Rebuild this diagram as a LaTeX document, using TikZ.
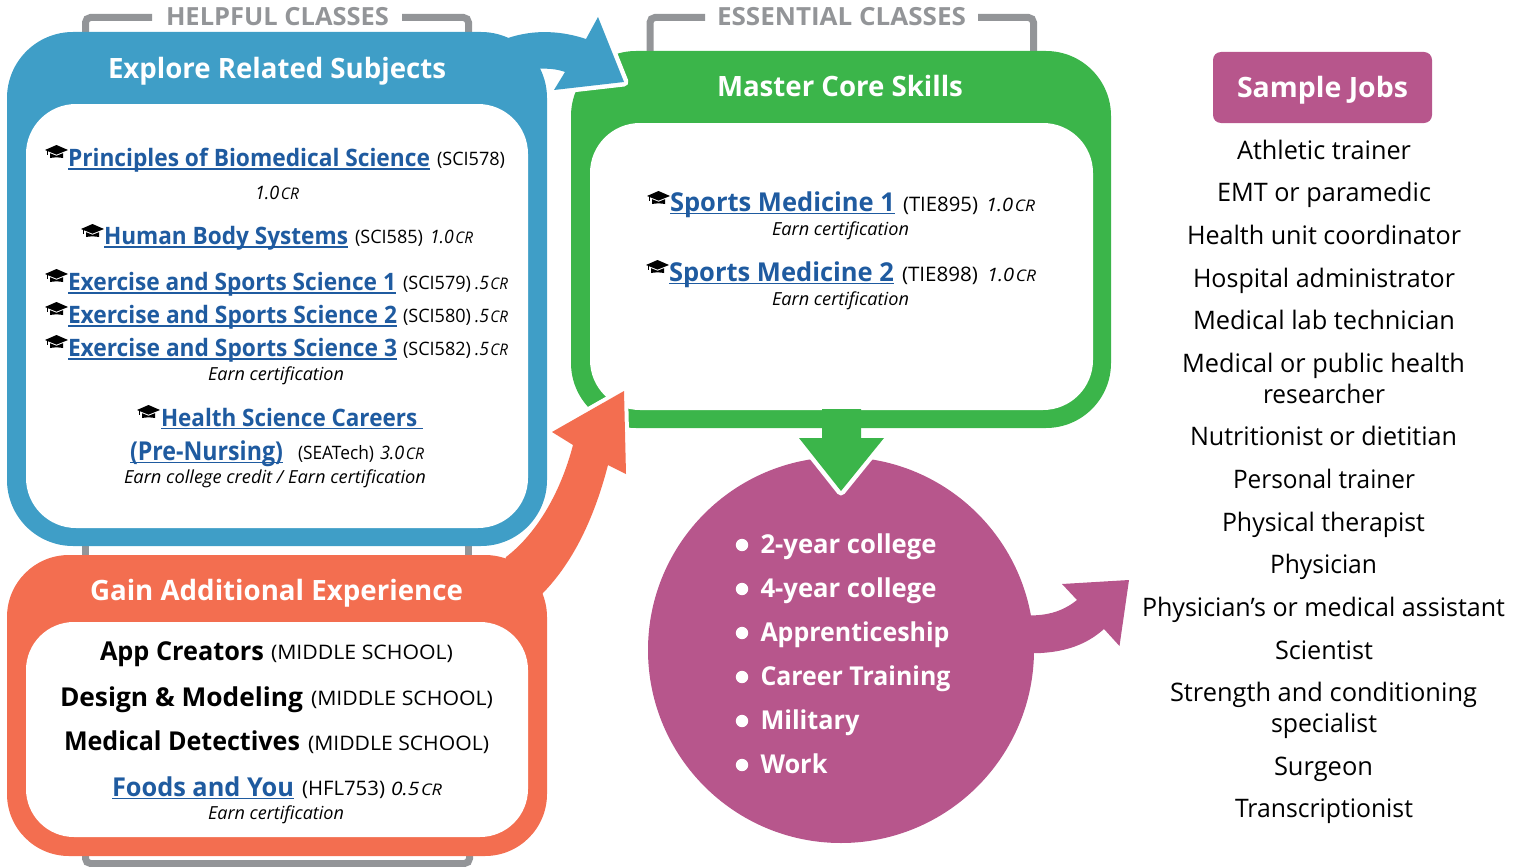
\documentclass[tikz,border=0pt]{standalone}
\usepackage{graphicx}
\usepackage{fontspec}
\setmainfont{Open Sans}
\definecolor{cblue}{HTML}{3F9EC7}
\definecolor{cgreen}{HTML}{3BB54A}
\definecolor{corange}{HTML}{F36E50}
\definecolor{cpurple}{HTML}{B7568C}
\definecolor{cgrey}{HTML}{939598}
\definecolor{clink}{HTML}{1F5BA0}
\newsavebox\fitbox
\newsavebox\lnkbox
\newcommand\fitx[2]{\sbox\fitbox{#2}\scalebox{\fpeval{#1pt/\the\wd\fitbox}}[1]{\usebox\fitbox}}
\newcommand\fs[1]{\fontsize{#1}{#1}\selectfont}
\newcommand\lnk[2][24]{\sbox\lnkbox{\fs{#1}\bfseries\color{clink}#2}\rlap{\usebox\lnkbox}{\color{clink}\rule[-3.2pt]{\wd\lnkbox}{1.6pt}}}
\newcommand\crd[1]{{\fs{18.5}\itshape #1\hspace{1.5pt}{\fs{16}CR}}}
\newcommand\code[1]{{\fs{18.5}#1}}
\newcommand\earn[1]{{\fs{18}\itshape #1}}
% \pc{name}{x}{baseline y}{width}{content}
\newcommand\pc[5]{\node[txt] (#1) at (#2,#3) {\fitx{#4}{#5}};}
\newcommand\job[5]{\node[txt] (#1) at (#2,#3) {\fitx{#4}{\fs{25.5}#5}};}
\tikzset{
  txt/.style={anchor=base west,inner sep=0pt,outer sep=0pt},
  box/.style={anchor=north west,inner sep=0pt,outer sep=0pt,draw=none},
  bracket/.style={draw=cgrey,line width=7pt,rounded corners=5pt},
  gradcap/.pic={
    \fill[black] (0,5) -- (11.5,0) -- (23,5) -- (11.5,9.6) -- cycle;
    \fill[black] (5,8.2) -- (11.5,10.8) -- (18,8.2) -- (18,13) .. controls (14,12.2) and (9,12.2) .. (5,13) -- cycle;
    \fill[black] (1.6,5.5) rectangle (2.6,10);
  }
}
\begin{document}
\begin{tikzpicture}[x=1pt,y=-1pt]
\useasboundingbox (0,0) rectangle (1524,867);
% brackets
\draw[bracket] (85.5,40) -- (85.5,17.5) -- (152,17.5);
\draw[bracket] (402,17.5) -- (468.5,17.5) -- (468.5,40);
\draw[bracket] (650,60) -- (650,17.5) -- (705,17.5);
\draw[bracket] (978,17.5) -- (1033.5,17.5) -- (1033.5,60);
\draw[bracket,rounded corners=0pt] (85.5,540) -- (85.5,560);
\draw[bracket,rounded corners=0pt] (468.5,540) -- (468.5,560);
\draw[bracket] (85.5,850) -- (85.5,863.5) -- (469.5,863.5) -- (469.5,850);
% circle and its arrows
\node[circle,fill=cpurple,minimum size=386pt,inner sep=0pt] (circ) at (841,650) {};
\fill[cpurple] (1020,615) .. controls (1045,617) and (1062,612) .. (1077,600) -- (1062,584) -- (1129,580) -- (1119.5,646) -- (1104,629) .. controls (1085,646) and (1060,655) .. (1020,653) -- cycle;
\path[draw=white,line width=9pt,line join=round] (822,400) -- (822,438) -- (799,438) -- (841,491) -- (884,438) -- (861,438) -- (861,400);
% green box
\node[box,fill=cgreen,rounded corners=65pt,minimum width=540pt,minimum height=377pt] (green) at (571,51) {};
\node[box,fill=white,rounded corners=50pt,minimum width=503pt,minimum height=287pt] (greenin) at (590,123) {};
\fill[cgreen] (822,409) -- (822,438) -- (799,438) -- (841,491) -- (884,438) -- (861,438) -- (861,409) -- cycle;
% blue arrow
\def\bluearrow{(500,60) -- (508,38) .. controls (535,29) and (562,31) .. (586,39) -- (598,17) -- (624,82) -- (554,90) -- (565,72) .. controls (557,69) and (548,68) .. (530,69) -- cycle}
\draw[white,line width=9pt,line join=round] \bluearrow;
\fill[cblue] \bluearrow;
% blue box
\node[box,fill=cblue,rounded corners=66pt,minimum width=540pt,minimum height=514pt] (blue) at (7,32) {};
\node[box,fill=white,rounded corners=50pt,minimum width=502pt,minimum height=424pt] (bluein) at (26,104) {};
% orange arrow
\def\orangearrow{(500,580) -- (506,557) .. controls (535,535) and (560,495) .. (573,445) -- (552,432) -- (624,391) -- (626,474) -- (608,465) .. controls (595,515) and (575,560) .. (543,593) -- (530,610) -- cycle}
\draw[white,line width=8pt,line join=round] \orangearrow;
\fill[corange] \orangearrow;
% orange box
\node[box,fill=corange,rounded corners=62pt,minimum width=540pt,minimum height=301pt] (orange) at (7,555) {};
\node[box,fill=white,rounded corners=48pt,minimum width=502pt,minimum height=215pt] (orangein) at (26,622) {};
% jobs box
\node[box,fill=cpurple,rounded corners=8pt,minimum width=219pt,minimum height=71pt] (jobsbox) at (1213,52) {};
% labels
\pc{hc}{166}{26}{223}{\fs{25}\bfseries\color{cgrey}HELPFUL CLASSES}
\pc{ec}{717}{26}{249}{\fs{25}\bfseries\color{cgrey}ESSENTIAL CLASSES}
\pc{t1}{108}{78}{338}{\fs{28}\bfseries\color{white}Explore Related Subjects}
\pc{t2}{717}{96}{246}{\fs{28}\bfseries\color{white}Master Core Skills}
\pc{t3}{90}{600}{373}{\fs{28}\bfseries\color{white}Gain Additional Experience}
\pc{t4}{1237}{97}{171}{\fs{28}\bfseries\color{white}Sample Jobs}
% blue content
\pic at (45,145) {gradcap};
\pc{a1}{68}{166.5}{362}{\lnk{Principles of Biomedical Science}}
\pc{a2}{437}{165}{68}{\code{(SCI578)}}
\pc{a3}{255}{199}{44}{\crd{1.0}}
\pic at (81,224) {gradcap};
\pc{b1}{104}{244.5}{244}{\lnk{Human Body Systems}}
\pc{b2}{355}{243}{68}{\code{(SCI585)}}
\pc{b3}{430}{243}{43}{\crd{1.0}}
\pic at (45,269) {gradcap};
\pc{c1}{68}{290.5}{328}{\lnk{Exercise and Sports Science 1}}
\pc{c2}{403}{289}{68}{\code{(SCI579)}}
\pc{c3}{475}{289}{33}{\crd{.5}}
\pic at (45,302) {gradcap};
\pc{d1}{68}{323.5}{329}{\lnk{Exercise and Sports Science 2}}
\pc{d2}{403}{322}{68}{\code{(SCI580)}}
\pc{d3}{475}{322}{33}{\crd{.5}}
\pic at (45,335) {gradcap};
\pc{e1}{68}{356.5}{329}{\lnk{Exercise and Sports Science 3}}
\pc{e2}{403}{355}{68}{\code{(SCI582)}}
\pc{e3}{475}{355}{33}{\crd{.5}}
\pc{e4}{208}{380}{136}{\earn{Earn certification}}
\pic at (137,405) {gradcap};
\pc{f1}{161}{426}{262}{\lnk{Health Science Careers\ }}
\pc{f2}{130}{460}{153}{\lnk[26]{(Pre-Nursing)}}
\pc{f3}{298}{459}{76}{\code{(SEATech)}}
\pc{f4}{380}{459}{44}{\crd{3.0}}
\pc{f5}{124}{483}{302}{\earn{Earn college credit / Earn certification}}
% orange content
\pc{g1}{100}{660}{164}{\fs{26}\bfseries App Creators}
\pc{g2}{271}{659}{182}{\fs{20}(MIDDLE SCHOOL)}
\pc{h1}{60}{706}{243}{\fs{26}\bfseries Design \& Modeling}
\pc{h2}{311}{705}{182}{\fs{20}(MIDDLE SCHOOL)}
\pc{i1}{64}{750.5}{236}{\fs{26}\bfseries Medical Detectives}
\pc{i2}{308}{750}{181}{\fs{20}(MIDDLE SCHOOL)}
\pc{j1}{112}{796}{182}{\lnk[26]{Foods and You}}
\pc{j2}{302}{795}{83}{\fs{20}(HFL753)}
\pc{j3}{391}{795}{51}{\crd{0.5}}
\pc{j4}{208}{819}{136}{\earn{Earn certification}}
% green content
\pic at (647,191) {gradcap};
\pc{k1}{670}{211}{225}{\lnk[26]{Sports Medicine 1}}
\pc{k2}{903}{211}{75}{\fs{20}(TIE895)}
\pc{k3}{986}{211}{49}{\crd{1.0}}
\pc{k4}{772}{235}{137}{\earn{Earn certification}}
\pic at (646,260) {gradcap};
\pc{l1}{669}{281}{225}{\lnk[26]{Sports Medicine 2}}
\pc{l2}{902}{281}{76}{\fs{20}(TIE898)}
\pc{l3}{987}{281}{49}{\crd{1.0}}
\pc{l4}{772}{305}{137}{\earn{Earn certification}}
% circle list
\foreach \yy/\nn/\ww/\lbl in {553/m1/176/2-year college,597/m2/176/4-year college,641/m3/189/Apprenticeship,685/m4/190/Career Training,729/m5/99/Military,773/m6/67/Work}{
  \fill[white] (742,\yy-8) circle (6.2pt);
  \node[txt] (\nn) at (760.5,\yy) {\fitx{\ww}{\fs{26}\bfseries\color{white}\lbl}};
}
% jobs
\job{n1}{1237}{159}{174}{Athletic trainer}
\job{n2}{1217}{201}{214}{EMT or paramedic}
\job{n3}{1187}{244}{274}{Health unit coordinator}
\job{n4}{1193}{287}{262}{Hospital administrator}
\job{n5}{1193}{329}{262}{Medical lab technician}
\job{n6}{1182}{372}{283}{Medical or public health}
\job{n7}{1263}{403}{122}{researcher}
\job{n8}{1190}{445}{267}{Nutritionist or dietitian}
\job{n9}{1233}{488}{182}{Personal trainer}
\job{n10}{1222}{531}{203}{Physical therapist}
\job{n11}{1270}{573}{107}{Physician}
\job{n12}{1142}{616}{363}{Physician’s or medical assistant}
\job{n13}{1275}{659}{98}{Scientist}
\job{n14}{1170}{701}{307}{Strength and conditioning}
\job{n15}{1271}{732}{106}{specialist}
\job{n16}{1274}{775}{99}{Surgeon}
\job{n17}{1235}{817}{178}{Transcriptionist}
\end{tikzpicture}
\end{document}
